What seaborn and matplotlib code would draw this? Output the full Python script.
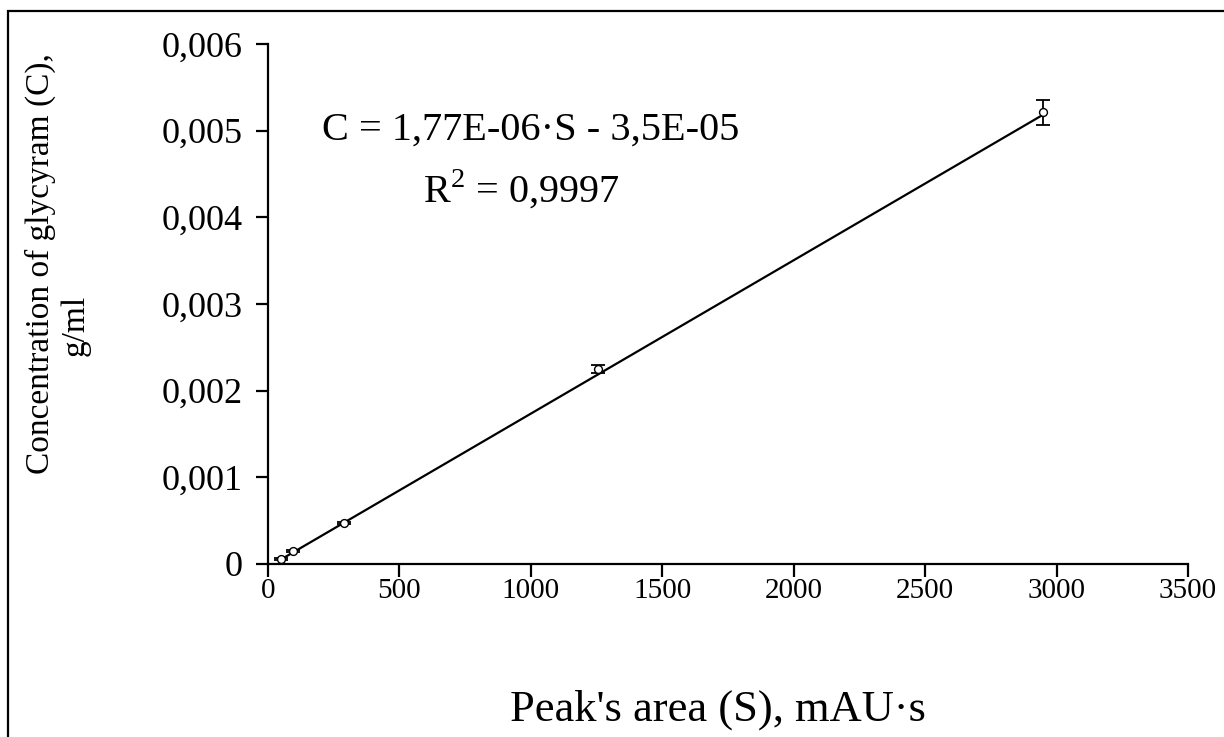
import matplotlib
matplotlib.use("Agg")
import matplotlib.pyplot as plt
from matplotlib.ticker import FuncFormatter, MultipleLocator
from matplotlib.patches import Rectangle
import numpy as np
import pandas as pd
import seaborn as sns

# Calibration data: peak area vs glycyram concentration
peak_area = [50, 95, 290, 1255, 2950]
concentration = [0.00006, 0.00015, 0.00047, 0.00225, 0.00521]
conc_error = [0.00001, 0.00001, 0.00001, 0.00005, 0.00014]

# Linear fit as reported
slope = 1.77e-06
intercept = -3.5e-05
r_squared = "0,9997"

df = pd.DataFrame({"S": peak_area, "C": concentration, "err": conc_error})
fit = pd.DataFrame({"S": [peak_area[0], peak_area[-1]]})
fit["C"] = slope * fit["S"] + intercept

sns.set_style("ticks")
plt.rcParams["font.family"] = ["Liberation Serif", "DejaVu Serif"]
plt.rcParams["mathtext.fontset"] = "custom"
plt.rcParams["mathtext.rm"] = "Liberation Serif"
for key in ["text.color", "axes.labelcolor", "xtick.color", "ytick.color"]:
    plt.rcParams[key] = "black"

W, H = 1224, 737
fig = plt.figure(figsize=(W / 100, H / 100), dpi=100)
ax = fig.add_axes([268 / W, 1 - 564 / H, 920 / W, 520 / H])

sns.lineplot(data=fit, x="S", y="C", ax=ax, color="black", linewidth=1.6)
ax.errorbar(df["S"], df["C"], yerr=df["err"], fmt="none", ecolor="black",
            elinewidth=1.3, capsize=5, capthick=1.3)
sns.scatterplot(data=df, x="S", y="C", ax=ax, marker="o", s=32,
                facecolor="white", edgecolor="black", linewidth=1.0, zorder=5)

ax.set_xlim(0, 3500)
ax.set_ylim(0, 0.006)
ax.xaxis.set_major_locator(MultipleLocator(500))
ax.yaxis.set_major_locator(MultipleLocator(0.001))

def comma_fmt(v, pos):
    if abs(v) < 1e-12:
        return "0"
    return f"{v:.3f}".replace(".", ",")

ax.yaxis.set_major_formatter(FuncFormatter(comma_fmt))
ax.xaxis.set_major_formatter(FuncFormatter(lambda v, p: f"{v:.0f}"))

ax.tick_params(axis="both", direction="out", length=9, width=1.6,
               colors="black")
ax.tick_params(axis="x", labelsize=21, pad=1)
ax.tick_params(axis="y", labelsize=26, pad=9)
for side in ["top", "right"]:
    ax.spines[side].set_visible(False)
for side in ["left", "bottom"]:
    ax.spines[side].set_linewidth(1.6)
    ax.spines[side].set_color("black")

ax.set_xlabel("")
ax.set_ylabel("")

# Axis titles
fig.text(718 / W, 1 - 710 / H, "Peak's area (S), mAU·s", fontsize=32,
         ha="center", va="center")
fig.text(40 / W, 1 - 264 / H, "Concentration of glycyram (C),", fontsize=24,
         rotation=90, ha="center", va="center")
fig.text(75 / W, 1 - 325 / H, "g/ml", fontsize=24,
         rotation=90, ha="center", va="center")

# Fit equation
fig.text(531 / W, 1 - 130 / H, "C = 1,77E-06·S - 3,5E-05", fontsize=29,
         ha="center", va="center")
fig.text(521 / W, 1 - 190 / H, "R$^2$ = " + r_squared, fontsize=29,
         ha="center", va="center")

fig.patches.append(Rectangle((8 / W, -0.05), 1.2, 1 - 11 / H + 0.05,
                             transform=fig.transFigure, fill=False,
                             edgecolor="black", linewidth=1.6))

fig.savefig("out.png", dpi=100, facecolor="white")
